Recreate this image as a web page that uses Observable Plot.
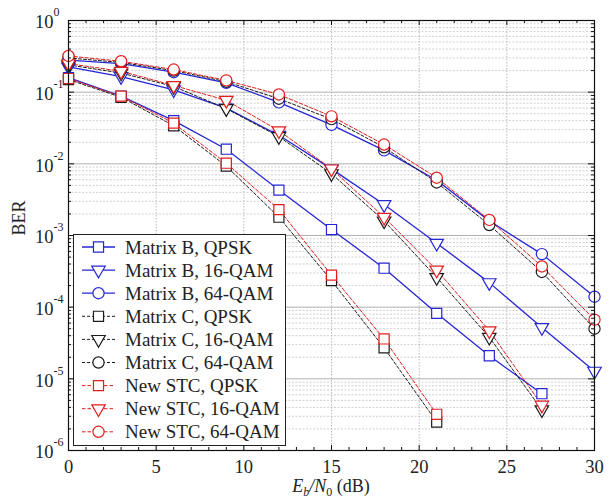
<!DOCTYPE html>
<html><head><meta charset="utf-8">
<script src="https://cdn.jsdelivr.net/npm/d3@7"></script>
<script src="https://cdn.jsdelivr.net/npm/@observablehq/plot@0.6"></script>
<style>body{margin:0;background:#fff}#chart{width:615px;height:497px;overflow:hidden}</style>
</head><body><div id="chart"></div>
<script>
// ---- data (BER vs Eb/N0) ----
const snr = [0, 3, 6, 9, 12, 15, 18, 21, 24, 27, 30];
const matrixB_QPSK  = [0.16, 0.088, 0.040, 0.016, 0.0043, 0.00121, 0.00035, 8.2e-5, 2.1e-5, 6.2e-6];
const matrixB_16QAM = [0.225, 0.165, 0.108, 0.060, 0.025, 0.0085, 0.0027, 7.8e-4, 2.2e-4, 5.2e-5, 1.28e-5];
const matrixB_64QAM = [0.28, 0.25, 0.19, 0.135, 0.072, 0.035, 0.0154, 0.0059, 0.0016, 5.5e-4, 1.4e-4];
const matrixC_QPSK  = [0.15, 0.085, 0.034, 0.0093, 0.0018, 2.35e-4, 2.7e-5, 2.5e-6];
const matrixC_16QAM = [0.24, 0.185, 0.12, 0.059, 0.024, 0.0073, 0.0016, 2.6e-4, 3.8e-5, 3.7e-6];
const matrixC_64QAM = [0.30, 0.26, 0.20, 0.14, 0.081, 0.042, 0.017, 0.0055, 0.0014, 3.1e-4, 5.0e-5];
const newSTC_QPSK   = [0.155, 0.088, 0.037, 0.0102, 0.0023, 2.8e-4, 3.6e-5, 3.2e-6];
const newSTC_16QAM  = [0.25, 0.196, 0.124, 0.077, 0.029, 0.0085, 0.0018, 3.3e-4, 4.7e-5, 4.3e-6];
const newSTC_64QAM  = [0.32, 0.27, 0.207, 0.146, 0.093, 0.046, 0.0186, 0.0064, 0.00165, 3.7e-4, 6.7e-5];
const seriesLabels = ["Matrix B, QPSK","Matrix B, 16-QAM","Matrix B, 64-QAM",
  "Matrix C, QPSK","Matrix C, 16-QAM","Matrix C, 64-QAM",
  "New STC, QPSK","New STC, 16-QAM","New STC, 64-QAM"];
const xTicks = [0, 5, 10, 15, 20, 25, 30];
const yExponents = [0, -1, -2, -3, -4, -5, -6];

// ---- styles ----
const BLUE = "#2626d6", BLACK = "#1c1c1c", RED = "#e21d1d";
const triangleDown = {draw(ctx, size) {
  const y = Math.sqrt(size / (3 * Math.sqrt(3)));
  ctx.moveTo(0, 2 * y); ctx.lineTo(-Math.sqrt(3) * y, -y); ctx.lineTo(Math.sqrt(3) * y, -y); ctx.closePath();
}};
const symbols = {sq: {sym: d3.symbolSquare, r: 5.7}, tri: {sym: triangleDown, r: 5.0}, circ: {sym: d3.symbolCircle, r: 5.6}};
const groupStyle = [
  {stroke: BLUE, dash: null, width: 1.3},
  {stroke: BLACK, dash: "3,2", width: 1},
  {stroke: RED, dash: "3.5,2", width: 1}
];
const seriesValues = [matrixB_QPSK, matrixB_16QAM, matrixB_64QAM, matrixC_QPSK, matrixC_16QAM, matrixC_64QAM, newSTC_QPSK, newSTC_16QAM, newSTC_64QAM];
const symKeys = ["sq", "tri", "circ"];
const series = seriesValues.map((vals, i) => ({
  label: seriesLabels[i],
  rows: vals.map((v, j) => ({x: snr[j], y: v})),
  style: groupStyle[Math.floor(i / 3)],
  sym: symbols[symKeys[i % 3]]
}));

// ---- layout ----
const W = 615, H = 497, mL = 68, mR = 21, mT = 20, mB = 47;
const fw = W - mL - mR, fh = H - mT - mB;

const yMajor = yExponents.map(e => 10 ** e);
const yMinor = [];
for (let e = -6; e < 0; e++) for (let m = 2; m <= 9; m++) yMinor.push(m * 10 ** e);
const xMinor = d3.range(0, 31).filter(v => v % 5 !== 0);

const marks = [
  Plot.gridY(yMinor, {stroke: "#c4c4c4", strokeOpacity: 1, strokeDasharray: "2,1.5", strokeWidth: 0.8}),
  Plot.gridY(yMajor, {stroke: "#a8a8a8", strokeOpacity: 1, strokeWidth: 0.9}),
  Plot.gridX(xTicks, {stroke: "#b4b4b4", strokeOpacity: 1, strokeDasharray: "1.5,1.5", strokeWidth: 0.9})
];
for (const s of series) {
  marks.push(Plot.line(s.rows, {x: "x", y: "y", stroke: s.style.stroke, strokeWidth: s.style.width, strokeDasharray: s.style.dash}));
}
for (const s of series) {
  marks.push(Plot.dot(s.rows, {x: "x", y: "y", symbol: s.sym.sym, r: s.sym.r, stroke: s.style.stroke, fill: "white", strokeWidth: 1.2}));
}
marks.push(
  Plot.frame({stroke: "#111", strokeWidth: 1.2}),
  // inward ticks
  Plot.tickX(xTicks, {x: d => d, insetTop: fh - 5, stroke: "#111"}),
  Plot.tickX(xTicks, {x: d => d, insetBottom: fh - 5, stroke: "#111"}),
  Plot.tickX(xMinor, {x: d => d, insetTop: fh - 3, stroke: "#111"}),
  Plot.tickX(xMinor, {x: d => d, insetBottom: fh - 3, stroke: "#111"}),
  Plot.tickY(yMajor, {y: d => d, insetRight: fw - 6, stroke: "#111"}),
  Plot.tickY(yMajor, {y: d => d, insetLeft: fw - 6, stroke: "#111"}),
  Plot.tickY(yMinor, {y: d => d, insetRight: fw - 3, stroke: "#111"}),
  Plot.tickY(yMinor, {y: d => d, insetLeft: fw - 3, stroke: "#111"}),
  // tick labels
  Plot.text(xTicks, {x: d => d, text: d => String(d), frameAnchor: "bottom", lineAnchor: "top", dy: 9, fontSize: 18.5, fill: "#222"}),
  Plot.text(yExponents, {y: e => 10 ** e, text: () => "10", frameAnchor: "left", textAnchor: "end", dx: -15, dy: 2, fontSize: 18.5, fill: "#222"}),
  Plot.text(yExponents, {y: e => 10 ** e, text: e => String(e), frameAnchor: "left", textAnchor: "start", dx: -15, dy: -8, fontSize: 12, fill: "#222"}),
  Plot.text(["BER"], {frameAnchor: "left", dx: -49, rotate: -90, fontSize: 18, fill: "#222"})
);

const svgEl = Plot.plot({
  width: W, height: H,
  marginLeft: mL, marginRight: mR, marginTop: mT, marginBottom: mB,
  style: {fontFamily: "'Liberation Serif', 'Times New Roman', serif", background: "white"},
  x: {domain: [0, 30], axis: null},
  y: {type: "log", domain: [1e-6, 1], axis: null},
  marks
});
document.getElementById("chart").appendChild(svgEl);

const svg = d3.select(svgEl);
// x-axis label with italic and subscripts
const xl = svg.append("text").attr("x", mL + fw / 2).attr("y", 492).attr("text-anchor", "middle")
  .attr("font-size", 18).attr("fill", "#222").attr("font-family", "'Liberation Serif', serif");
xl.append("tspan").attr("font-style", "italic").text("E");
xl.append("tspan").attr("font-style", "italic").attr("font-size", 12).attr("dy", 4).text("b");
xl.append("tspan").attr("font-style", "italic").attr("dy", -4).text("/N");
xl.append("tspan").attr("font-size", 12).attr("dy", 4).text("0");
xl.append("tspan").attr("dy", -4).text(" (dB)");

// legend
const lg = svg.append("g").attr("font-family", "'Liberation Serif', serif").attr("text-anchor", "start");
lg.append("rect").attr("x", 73.5).attr("y", 234.5).attr("width", 212).attr("height", 211)
  .attr("fill", "white").attr("stroke", "#222").attr("stroke-width", 1);
series.forEach((s, i) => {
  const cy = 247 + i * 23.1;
  lg.append("line").attr("x1", 82).attr("x2", 115).attr("y1", cy).attr("y2", cy)
    .attr("stroke", s.style.stroke).attr("stroke-width", s.style.width)
    .attr("stroke-dasharray", s.style.dash);
  lg.append("path").attr("transform", `translate(98.5,${cy})`)
    .attr("d", d3.symbol().type(s.sym.sym).size(Math.PI * s.sym.r * s.sym.r)())
    .attr("fill", "white").attr("stroke", s.style.stroke).attr("stroke-width", 1.2);
  lg.append("text").attr("x", 125).attr("y", cy + 6.5).attr("text-anchor", "start")
    .attr("font-size", 19).attr("fill", "#222").text(s.label);
});
</script></body></html>
